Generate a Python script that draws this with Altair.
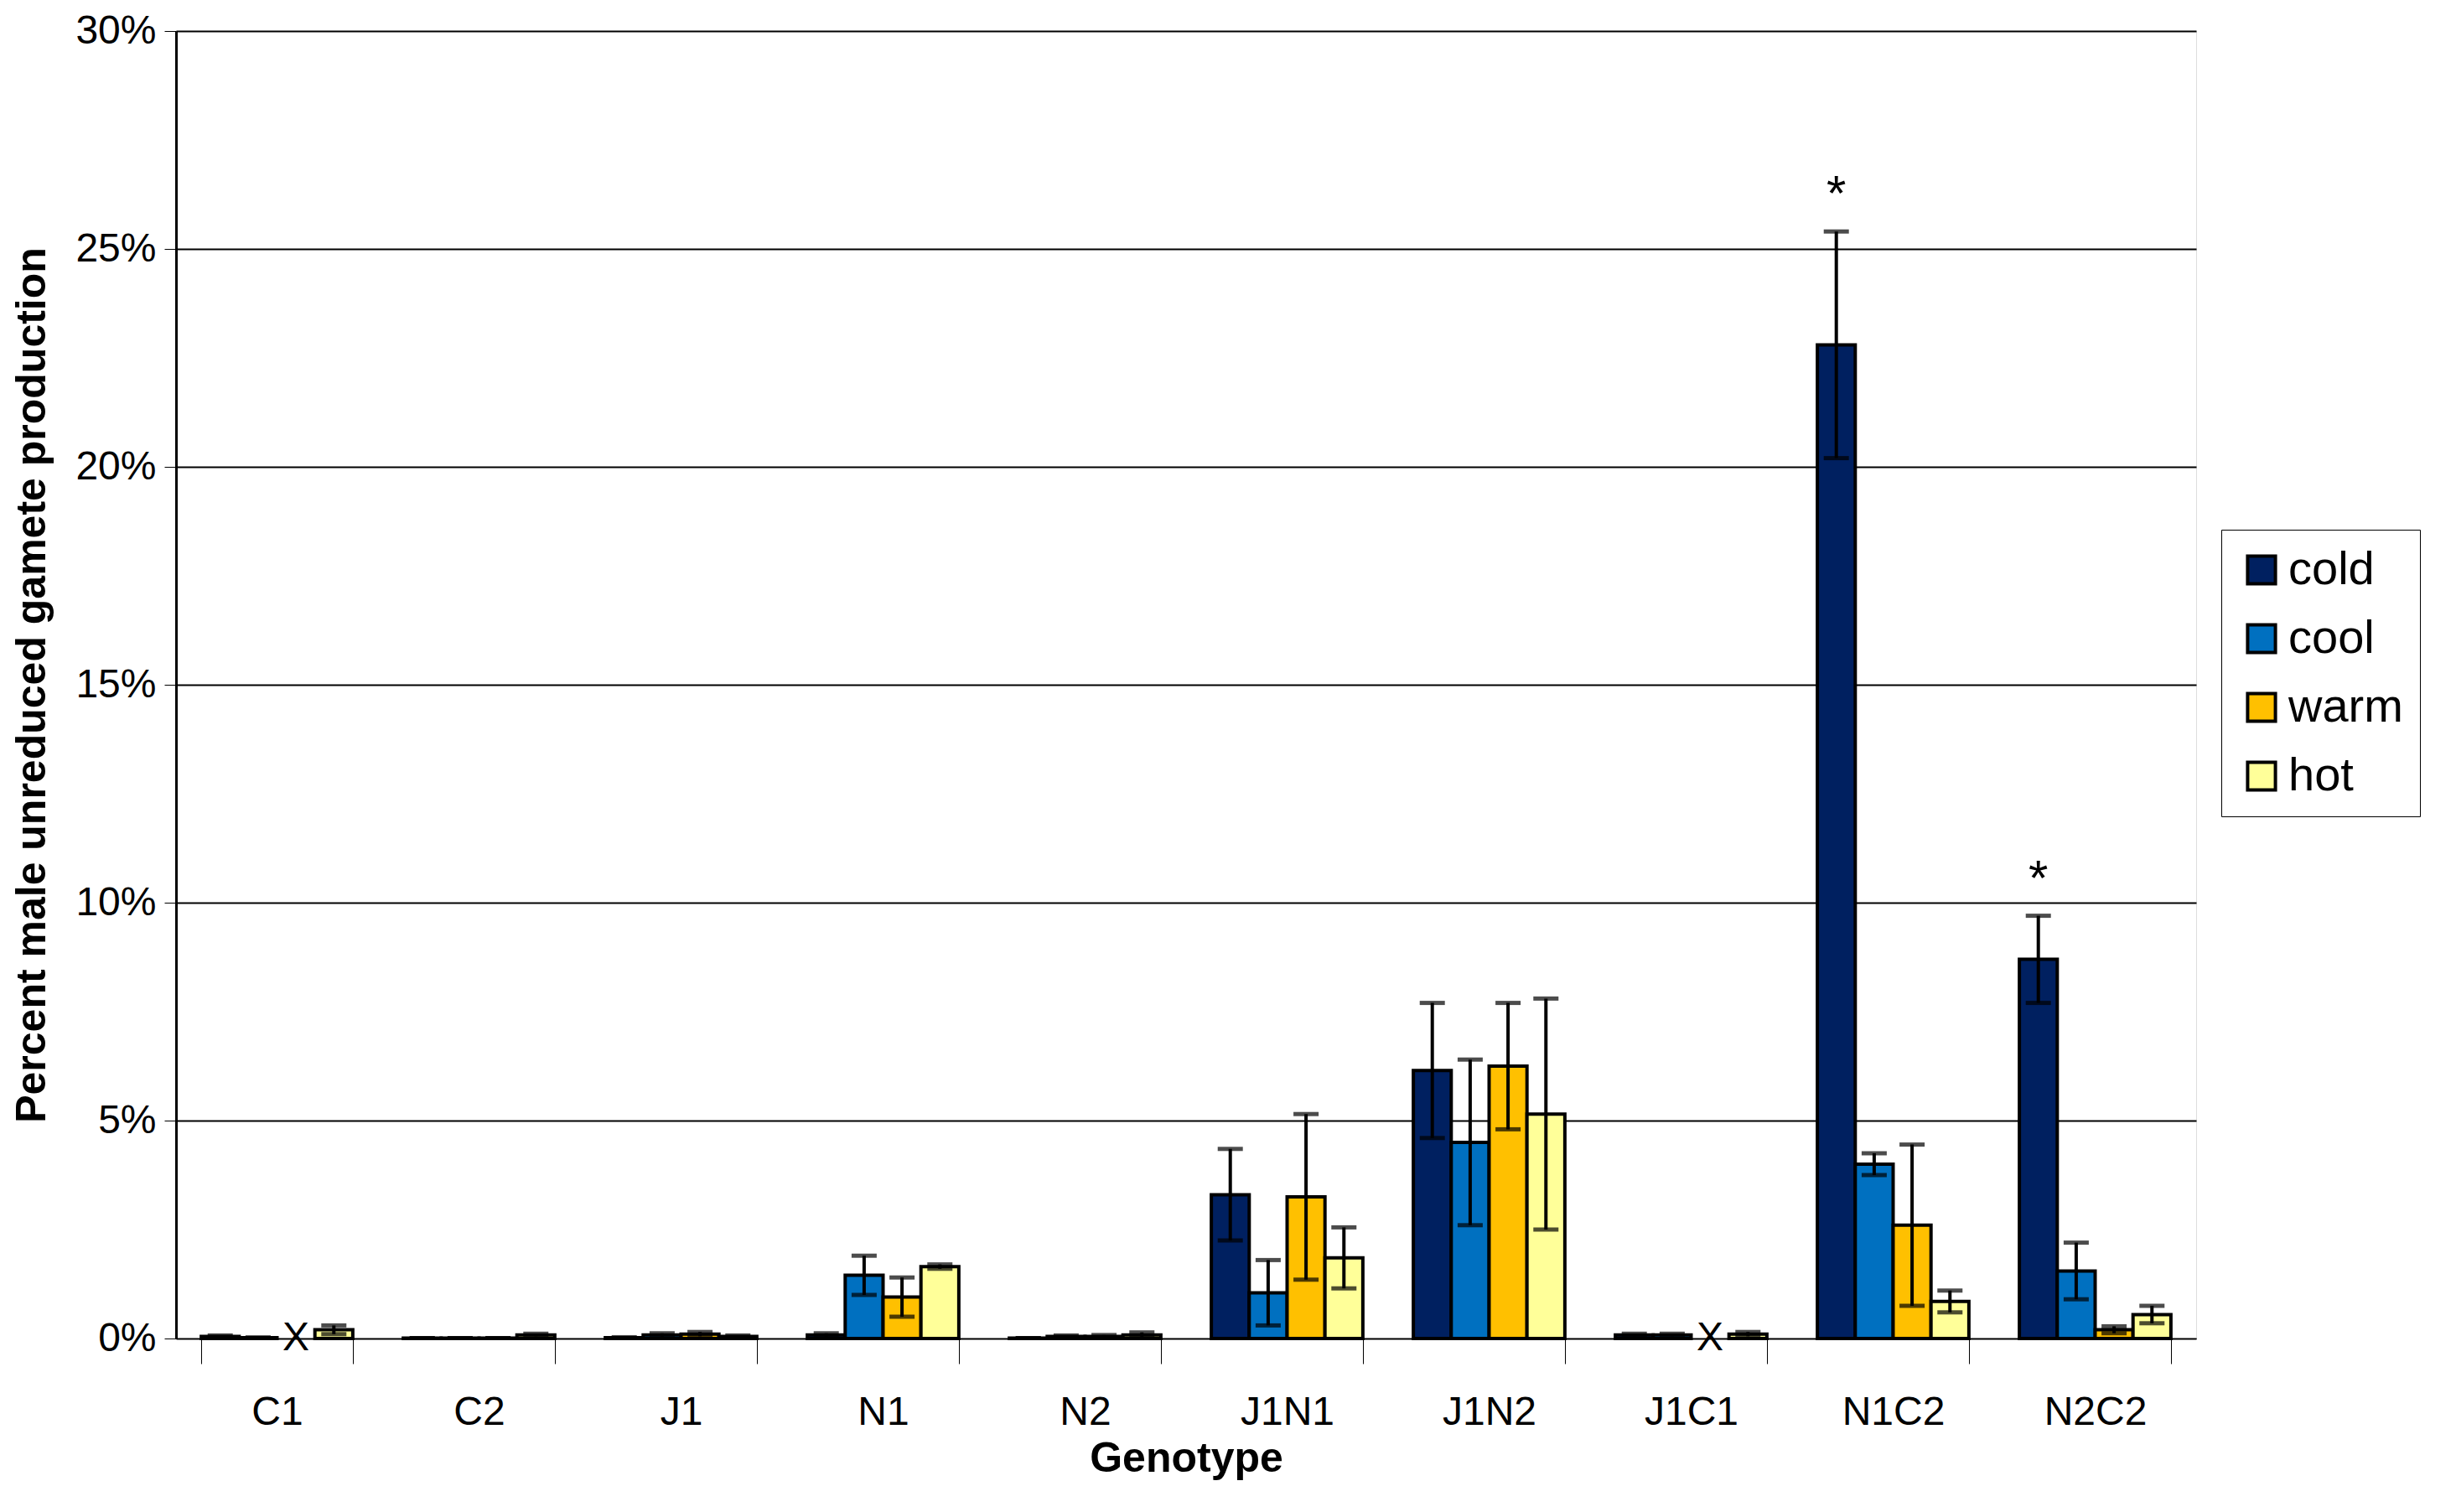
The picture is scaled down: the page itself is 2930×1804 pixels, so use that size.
import altair as alt
import pandas as pd

genotypes = ["C1", "C2", "J1", "N1", "N2", "J1N1", "J1N2", "J1C1", "N1C2", "N2C2"]
temps = ["cold", "cool", "warm", "hot"]
colors = ["#002060", "#0070C0", "#FFC000", "#FFFF99"]

# percent values per temperature, in genotype order (None = not measured, drawn as "X")
cold = [0.05, 0.01, 0.02, 0.08, 0.01, 3.3, 6.15, 0.08, 22.8, 8.7]
cool = [0.02, 0.01, 0.08, 1.45, 0.05, 1.05, 4.5, 0.08, 4.0, 1.55]
warm = [None, 0.01, 0.10, 0.95, 0.05, 3.25, 6.25, None, 2.6, 0.2]
hot = [0.2, 0.08, 0.05, 1.65, 0.08, 1.85, 5.15, 0.1, 0.85, 0.55]

cold_err = [0.02, 0.0, 0.01, 0.04, 0.0, 1.05, 1.55, 0.03, 2.6, 1.0]
cool_err = [0.0, 0.0, 0.04, 0.45, 0.02, 0.75, 1.9, 0.03, 0.25, 0.65]
warm_err = [None, 0.0, 0.05, 0.45, 0.03, 1.9, 1.45, None, 1.85, 0.08]
hot_err = [0.1, 0.03, 0.02, 0.05, 0.06, 0.7, 2.65, 0.05, 0.25, 0.2]

starred = [("N1C2", "cold"), ("N2C2", "cold")]

rows = []
for t, vals, errs in zip(temps, [cold, cool, warm, hot], [cold_err, cool_err, warm_err, hot_err]):
    for g, v, e in zip(genotypes, vals, errs):
        rows.append({"genotype": g, "temp": t, "value": v, "err": e})
df = pd.DataFrame(rows)
df["missing"] = df["value"].isna()
df["v"] = df["value"].fillna(0) / 100
df["lo"] = (df["value"] - df["err"]).fillna(0) / 100
df["hi"] = (df["value"] + df["err"]).fillna(0) / 100
df["star"] = [("*" if (g, t) in starred else "") for g, t in zip(df["genotype"], df["temp"])]

font = "Liberation Sans"
x = alt.X("genotype:N", sort=genotypes, title="Genotype",
          scale=alt.Scale(paddingInner=0.25, paddingOuter=0.125),
          axis=alt.Axis(labelAngle=0, tickBand="extent", labelFontSize=48, titleFontSize=50,
                        titleFontWeight="bold", labelPadding=34, tickSize=30, domainColor="black",
                        tickColor="black", labelColor="black", titleColor="black", titlePadding=6))
xo = alt.XOffset("temp:N", sort=temps, scale=alt.Scale(paddingInner=0, paddingOuter=0))
present = alt.datum.missing == False

base = alt.Chart(df).encode(x=x, xOffset=xo)

bars = base.mark_bar(stroke="black", strokeWidth=4).encode(
    y=alt.Y("v:Q", title="Percent male unreduced gamete production",
            scale=alt.Scale(domain=[0, 0.3]),
            axis=alt.Axis(format=".0%", values=[0, .05, .1, .15, .2, .25, .3], labelFontSize=48,
                          titleFontSize=50, titleFontWeight="bold", gridColor="black", gridWidth=2,
                          domainColor="black", domainWidth=3, tickColor="black", tickSize=14,
                          labelColor="black", titleColor="black", labelPadding=10, titlePadding=26)),
    color=alt.Color("temp:N", sort=temps, scale=alt.Scale(domain=temps, range=colors),
                    legend=alt.Legend(title=None, orient="none", legendX=2440, legendY=595,
                                      labelFontSize=56, symbolType="square", symbolSize=1100,
                                      symbolStrokeColor="black", symbolStrokeWidth=4,
                                      rowPadding=26, padding=20, strokeColor="black",
                                      fillColor="white", labelColor="black", labelFont=font)),
).transform_filter(present)

rules = base.mark_rule(color="black", strokeWidth=4).encode(
    y="lo:Q", y2="hi:Q").transform_filter(present)
caps_hi = base.mark_tick(color="black", thickness=5, size=30).encode(y="hi:Q").transform_filter(present)
caps_lo = base.mark_tick(color="black", thickness=5, size=30).encode(y="lo:Q").transform_filter(present)

xmarks = base.mark_text(text="X", fontSize=48, font=font, color="black", baseline="middle").encode(
    y=alt.datum(0)).transform_filter(alt.datum.missing == True)

stars = base.mark_text(fontSize=60, font=font, color="black", baseline="bottom", dy=-12).encode(
    y="hi:Q", text="star:N").transform_filter(alt.datum.star != "")

chart = alt.layer(bars, rules, caps_hi, caps_lo, xmarks, stars).properties(
    width=2410, height=1560
).configure_view(stroke="#888888", strokeWidth=3).configure(font=font)

chart.save("out.html", embed_options={"renderer": "svg", "actions": False})
